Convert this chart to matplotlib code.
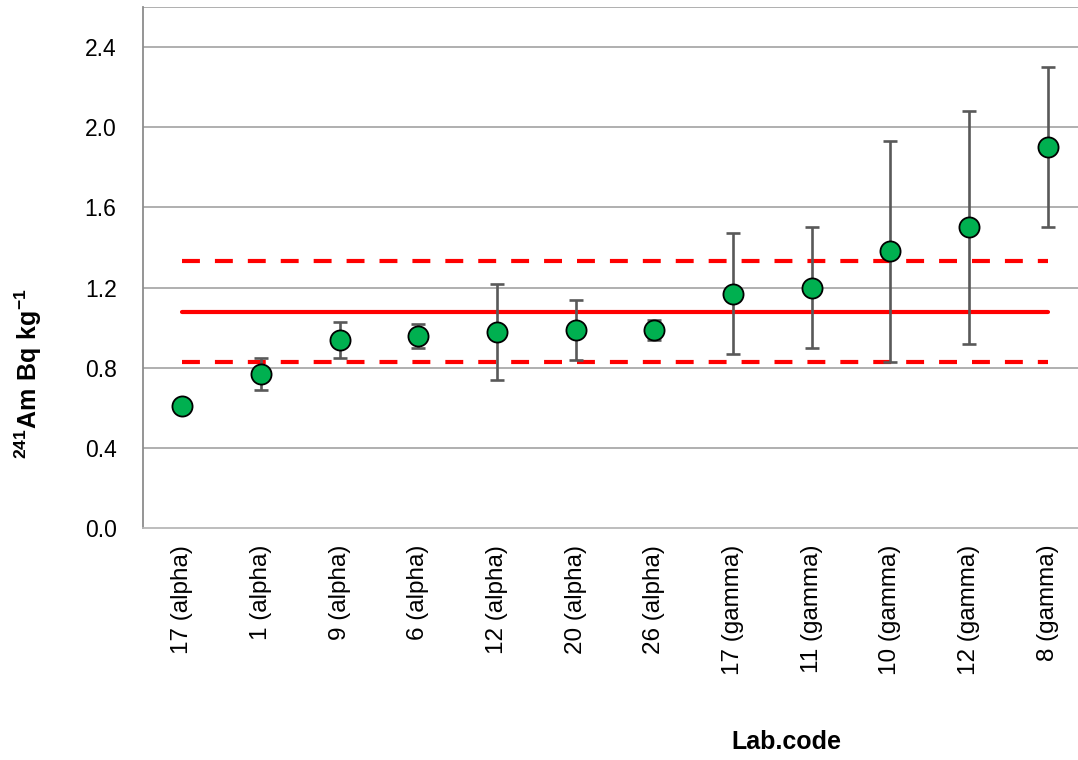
import matplotlib
matplotlib.use("Agg")
import matplotlib.pyplot as plt
import numpy as np

labs = ["17 (alpha)", "1 (alpha)", "9 (alpha)", "6 (alpha)", "12 (alpha)", "20 (alpha)",
        "26 (alpha)", "17 (gamma)", "11 (gamma)", "10 (gamma)", "12 (gamma)", "8 (gamma)"]
values = [0.61, 0.77, 0.94, 0.96, 0.98, 0.99, 0.99, 1.17, 1.20, 1.38, 1.50, 1.90]
err_low = [0.00, 0.08, 0.09, 0.06, 0.24, 0.15, 0.05, 0.30, 0.30, 0.55, 0.58, 0.40]
err_high = [0.00, 0.08, 0.09, 0.06, 0.24, 0.15, 0.05, 0.30, 0.30, 0.55, 0.58, 0.40]
ref_value = 1.08
ref_upper = 1.33
ref_lower = 0.83
yticks = [0.0, 0.4, 0.8, 1.2, 1.6, 2.0, 2.4]

plt.rcParams['font.family'] = ['Liberation Sans', 'DejaVu Sans']
plt.rcParams['mathtext.fontset'] = 'custom'
plt.rcParams['mathtext.rm'] = 'Liberation Sans'
plt.rcParams['mathtext.bf'] = 'Liberation Sans:bold'

fig = plt.figure(figsize=(10.78, 7.6), dpi=100)
ax = fig.add_axes([143/1078, 1 - 528/760, (1087 - 143)/1078, (528 - 7)/760])

x = np.arange(len(labs))
ax.set_xlim(-0.5, len(labs) - 0.5)
ax.set_ylim(0, 2.6)

for yv in yticks[1:] + [2.6]:
    ax.axhline(yv, color='#9a9a9a', lw=1.1, zorder=0)

ax.plot([x[0], x[-1]], [ref_value, ref_value], color='#ff0000', lw=3, zorder=2,
        solid_capstyle='round')
for yv in (ref_upper, ref_lower):
    ax.plot([x[0], x[-1]], [yv, yv], color='#ff0000', lw=3, zorder=2,
            dashes=(4.3, 3.6))

ax.errorbar(x, values, yerr=[err_low, err_high], fmt='none', ecolor='#595959',
            elinewidth=1.9, capsize=5, capthick=1.9, zorder=3)
ax.plot(x, values, 'o', ms=14.5, mfc='#00b050', mec='black', mew=1.3, zorder=4,
        linestyle='none')

ax.set_yticks(yticks)
ax.set_yticklabels([f"{v:.1f}" for v in yticks])
ax.set_xticks(x)
ax.set_xticklabels(labs, rotation=90, va='top', ha='center')
ax.tick_params(axis='y', length=0, pad=19, labelsize=16.5)
ax.tick_params(axis='x', length=0, pad=12, labelsize=17.5)

for s in ('top', 'right'):
    ax.spines[s].set_visible(False)
ax.spines['left'].set_color('#8c8c8c')
ax.spines['left'].set_linewidth(1.3)
ax.spines['bottom'].set_color('#b8b8b8')
ax.spines['bottom'].set_linewidth(1.3)

fig.text(28/1078, 1 - 374/760, r'$\mathbf{^{241}Am\ Bq\ kg^{-1}}$', rotation=90,
         ha='center', va='center', fontsize=18)
fig.text(786/1078, 1 - 742/760, 'Lab.code', ha='center', va='center',
         fontsize=18, fontweight='bold')

fig.savefig('out.png', dpi=100)
